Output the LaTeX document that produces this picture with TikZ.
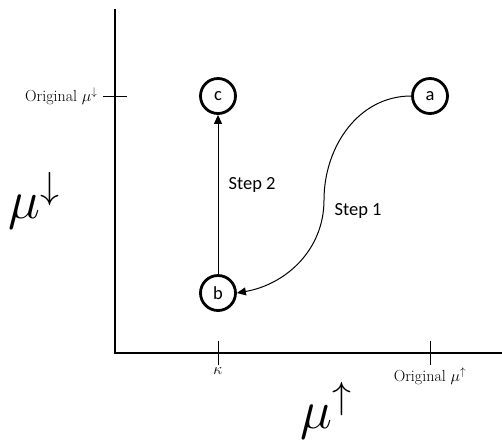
\RequirePackage{fix-cm}
\documentclass[tikz,border=0pt]{standalone}
\usepackage{amsmath}
\usepackage{amssymb}
\usepackage{fontspec}
\newfontfamily\stepfont{Carlito}
\usepackage{tikz}
\usetikzlibrary{positioning, arrows.meta, calc}

\begin{document}
\begin{tikzpicture}[
            x=1pt, y=-1pt,
            % node styles
            point/.style={circle, draw, line width=2.8pt, minimum size=35pt, inner sep=0pt, font=\stepfont\fontsize{18.5}{22}\selectfont},
            axis/.style={line width=2pt},
            tick/.style={line width=1pt},
            ticklabel/.style={font=\fontsize{16}{19}\selectfont, inner sep=2pt},
            biglabel/.style={font=\fontsize{54}{62}\selectfont, inner sep=0pt},
            arrow/.style={-{Triangle[length=9pt,width=8pt]}, line width=1pt},
            steplabel/.style={font=\stepfont\fontsize{18.5}{22}\selectfont}
        ]
            \useasboundingbox (0,0) rectangle (502,440);

            % axes
            \coordinate (origin) at (115,353);
            \coordinate (ytop) at (115,9);
            \coordinate (xend) at (502,353);
            \draw[axis] (ytop) -- (origin) -- (xend);

            % nodes
            \node[point] (c) at (218,96) {c};
            \node[point] (a) at (430,96) {a};
            \node[point] (b) at (218,293) {b};
            \coordinate (turn) at (324,200);

            % ticks
            \coordinate (ky) at (218,353);
            \coordinate (mx) at (430,353);
            \coordinate (my) at (115,96);
            \draw[tick] ($(ky)+(0,-12)$) -- ($(ky)+(0,12)$) node[ticklabel, below] (kappa) {$\kappa$};
            \draw[tick] ($(mx)+(0,-12)$) -- ($(mx)+(0,12)$) node[ticklabel, below] (origup) {Original $\mu^{\uparrow}$};
            \draw[tick] ($(my)+(12,0)$) -- ($(my)+(-12,0)$) node[ticklabel, left, xshift=-3pt] (origdown) {Original $\mu^{\downarrow}$};

            % axis labels
            \node[biglabel, anchor=base west] (mudown) at (8,218) {$\mu^{\downarrow}$};
            \node[biglabel, anchor=base west] (muup) at (300,428) {$\mu^{\uparrow}$};

            % steps
            \draw[arrow] (a.west) to[out=180, in=90] (turn) to[out=-90, in=10] (b.east);
            \draw[arrow] (b.north) -- (c.south);
            \node[steplabel, anchor=west] (step1) at (331,211) {Step 1};
            \node[steplabel, anchor=west] (step2) at (225,185) {Step 2};
\end{tikzpicture}
\end{document}
